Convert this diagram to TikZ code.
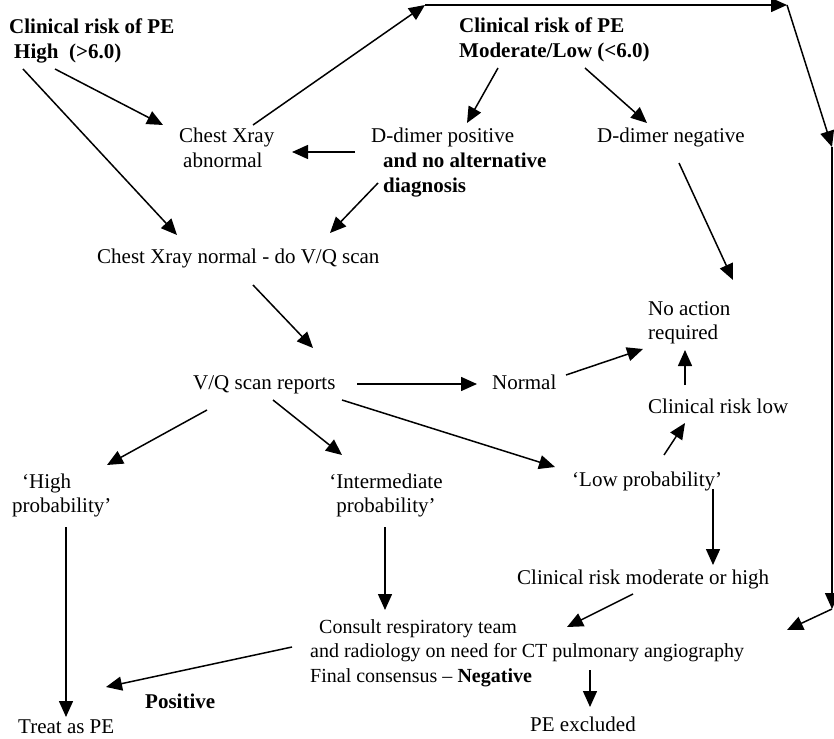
\documentclass[tikz,border=0pt]{standalone}
\usepackage{fontspec}
\setmainfont{Liberation Serif}
\usetikzlibrary{arrows.meta}
\newcommand{\pefont}{\fontsize{21}{24.5}\selectfont}

\begin{document}
\begin{tikzpicture}[x=1pt,y=-1pt,font=\pefont,
    lbl/.style={inner sep=0pt,anchor=base west,align=left},
    bld/.style={lbl,font=\pefont\bfseries},
    arr/.style={-{Triangle[length=16pt,width=14pt]},line width=1.5pt}]
      \useasboundingbox (0,0) rectangle (834,738);
      \node [bld] (hi) at (9,58.5) {Clinical risk of PE\\\hspace*{5pt}High\ \ (>6.0)};
      \node [bld] (ml) at (459,57.5) {Clinical risk of PE\\Moderate/Low (<6.0)};
      \node [lbl] (cxa) at (179,167.5) {Chest Xray\\\hspace*{4pt}abnormal};
      \node [lbl] (ddp) at (371,192) {D-dimer positive\\\hspace*{12pt}\textbf{and no alternative}\\\hspace*{12pt}\textbf{diagnosis}};
      \node [lbl] (ddn) at (597,143) {D-dimer negative};
      \node [lbl] (cxn) at (97,263) {Chest Xray normal - do V/Q scan};
      \node [lbl] (noa) at (648,339.5) {No action\\required};
      \node [lbl] (vq) at (193,389) {V/Q scan reports};
      \node [lbl] (nrm) at (492,389) {Normal};
      \node [lbl] (crl) at (648,413) {Clinical risk low};
      \node [lbl] (hp) at (12,512.5) {\hspace*{10pt}`High\\probability'};
      \node [lbl,anchor=base,align=center] (ip) at (386,512.5) {`Intermediate\\probability'};
      \node [lbl] (lp) at (572,486) {`Low probability'};
      \node [lbl] (crm) at (517,584) {Clinical risk moderate or high};
      \node [lbl,font=\fontsize{20}{24.5}\selectfont] (con) at (310,682) {\hspace*{9pt}Consult respiratory team\\and radiology on need for CT pulmonary angiography\\Final consensus -- \textbf{Negative}};
      \node [bld] (pos) at (145,708) {Positive};
      \node [lbl] (tpe) at (18,733) {Treat as PE};
      \node [lbl] (pex) at (530,731) {PE excluded};
      \coordinate (c1) at (425,5);
      \coordinate (c2) at (787,5);
      \coordinate (c3) at (832,147);
      \coordinate (c4) at (832,609);
      \draw [arr] ([shift={(46,10.5)}]hi.base west) -- ([shift={(-16,-42.5)}]cxa.base west);
      \draw [arr] ([shift={(14,10.5)}]hi.base west) -- ([shift={(80,-28)}]cxn.base west);
      \draw [arr] ([shift={(74,-42.5)}]cxa.base west) -- (c1);
      \draw [arr] (c1) -- (c2);
      \draw [arr] (c2) -- (c3);
      \draw [arr] (c3) -- (c4);
      \draw [arr] (c4) -- ([shift={(477,-52)}]con.base west);
      \draw [arr] ([shift={(39,10.5)}]ml.base west) -- ([shift={(96,-69)}]ddp.base west);
      \draw [arr] ([shift={(126,10.5)}]ml.base west) -- ([shift={(50,-20)}]ddn.base west);
      \draw [arr] ([shift={(-16,-40)}]ddp.base west) -- ([shift={(113,-15.5)}]cxa.base west);
      \draw [arr] ([shift={(7,-9)}]ddp.base west) -- ([shift={(233,-30)}]cxn.base west);
      \draw [arr] ([shift={(82,20)}]ddn.base west) -- ([shift={(85,-59.5)}]noa.base west);
      \draw [arr] ([shift={(156,22)}]cxn.base west) -- ([shift={(120,-41)}]vq.base west);
      \draw [arr] ([shift={(164,-5)}]vq.base west) -- ([shift={(-15,-5)}]nrm.base west);
      \draw [arr] ([shift={(74,-14)}]nrm.base west) -- ([shift={(-5,9.5)}]noa.base west);
      \draw [arr] ([shift={(37,-28)}]crl.base west) -- ([shift={(37,10.5)}]noa.base west);
      \draw [arr] ([shift={(92,-31)}]lp.base west) -- ([shift={(37,10)}]crl.base west);
      \draw [arr] ([shift={(149,11)}]vq.base west) -- ([shift={(-17,-19)}]lp.base west);
      \draw [arr] ([shift={(14,21)}]vq.base west) -- ([shift={(95,-47.5)}]hp.base west);
      \draw [arr] ([shift={(80,11)}]vq.base west) -- ([shift={(-44,-57.5)}]ip.base);
      \draw [arr] ([shift={(54,14.5)}]hp.base west) -- ([shift={(48,-16)}]tpe.base west);
      \draw [arr] ([shift={(-1,14.5)}]ip.base) -- ([shift={(75,-72)}]con.base west);
      \draw [arr] ([shift={(141,3)}]lp.base west) -- ([shift={(196,-19)}]crm.base west);
      \draw [arr] ([shift={(116,10)}]crm.base west) -- ([shift={(257,-55)}]con.base west);
      \draw [arr] ([shift={(-18,-35)}]con.base west) -- ([shift={(88,-46)}]tpe.base west);
      \draw [arr] ([shift={(280,-12)}]con.base west) -- ([shift={(60,-24)}]pex.base west);
\end{tikzpicture}
\end{document}
